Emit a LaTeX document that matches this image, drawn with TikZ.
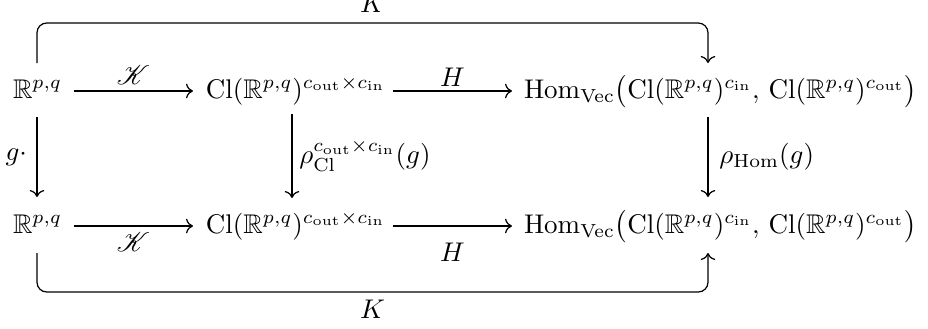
\documentclass[tikz,border=0pt]{standalone}
\usepackage{amsmath,amssymb,mathrsfs}
\usetikzlibrary{arrows.meta,calc}
\begin{document}
\begin{tikzpicture}[x=0.37037pt,y=-0.37037pt,
  obj/.style={inner sep=0pt, outer sep=0pt, anchor=base west},
  arr/.style={-{Computer Modern Rightarrow}, line width=0.45pt},
  lab/.style={inner sep=0pt}]
\useasboundingbox (0,0) rectangle (928,329);
% objects
\node[obj] (R1) at (13,98) {$\mathbb{R}^{p,q}$};
\node[obj] (C1) at (206,98) {$\mathrm{Cl}(\mathbb{R}^{p,q})^{c_{\mathrm{out}}\times c_{\mathrm{in}}}$};
\node[obj] (H1) at (524,98) {$\mathrm{Hom}_{\mathrm{Vec}}\big(\mathrm{Cl}(\mathbb{R}^{p,q})^{c_{\mathrm{in}}},\,\mathrm{Cl}(\mathbb{R}^{p,q})^{c_{\mathrm{out}}}\big)$};
\node[obj] (R2) at (13,233) {$\mathbb{R}^{p,q}$};
\node[obj] (C2) at (206,233) {$\mathrm{Cl}(\mathbb{R}^{p,q})^{c_{\mathrm{out}}\times c_{\mathrm{in}}}$};
\node[obj] (H2) at (524,233) {$\mathrm{Hom}_{\mathrm{Vec}}\big(\mathrm{Cl}(\mathbb{R}^{p,q})^{c_{\mathrm{in}}},\,\mathrm{Cl}(\mathbb{R}^{p,q})^{c_{\mathrm{out}}}\big)$};
% horizontal arrows
\draw[arr] ($(R1.base west)+(61,-7)$) -- node[lab,above=2.2pt]{$\mathscr{K}$} ($(C1.base west)+(-13,-7)$);
\draw[arr] ($(C1.base west)+(187,-7)$) -- node[lab,above=1.4pt]{$H$} ($(H1.base west)+(-12,-7)$);
\draw[arr] ($(R2.base west)+(61,-7)$) -- node[lab,below=2.2pt]{$\mathscr{K}$} ($(C2.base west)+(-13,-7)$);
\draw[arr] ($(C2.base west)+(187,-7)$) -- node[lab,below=6pt]{$H$} ($(H2.base west)+(-12,-7)$);
% vertical arrows
\draw[arr] ($(R1.base west)+(24,19)$) -- node[lab,left=3.5pt]{$g\cdot$} ($(R2.base west)+(24,-36)$);
\draw[arr] ($(C1.base west)+(86,16)$) -- node[lab,right=2.5pt]{$\rho_{\mathrm{Cl}}^{c_{\mathrm{out}}\times c_{\mathrm{in}}}(g)$} ($(C2.base west)+(86,-35)$);
\draw[arr] ($(H1.base west)+(184,19)$) -- node[lab,right=4pt]{$\rho_{\mathrm{Hom}}(g)$} ($(H2.base west)+(184,-36)$);
% bent arrows K
\draw[arr, rounded corners=3.6pt] ($(R1.base west)+(24,-35)$) |- node[lab,pos=0.75,above=3.6pt]{$K$} ($(H1.base west)+(184,-75)$) -- ($(H1.base west)+(184,-35)$);
\draw[arr, rounded corners=3.6pt] ($(R2.base west)+(24,20)$) |- node[lab,pos=0.75,below=2.9pt]{$K$} ($(H2.base west)+(184,59)$) -- ($(H2.base west)+(184,20)$);
\end{tikzpicture}
\end{document}
